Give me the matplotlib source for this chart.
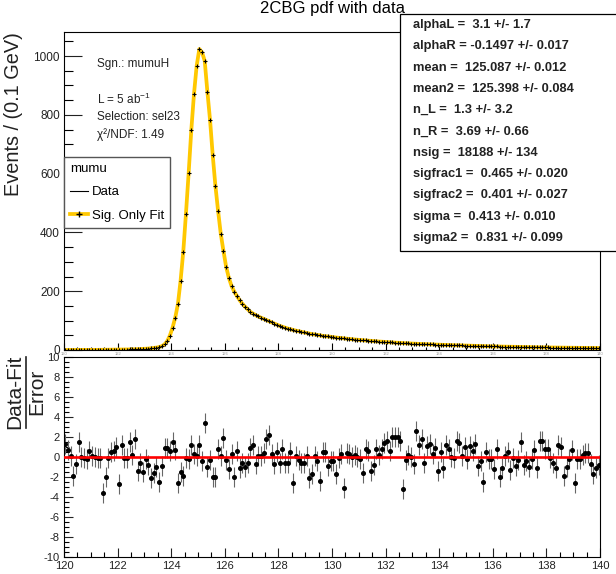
import numpy as np
import matplotlib.pyplot as plt
from matplotlib.lines import Line2D
from matplotlib.patches import Rectangle
from matplotlib.ticker import MultipleLocator

plt.rcParams['font.family'] = ['Liberation Sans', 'DejaVu Sans']
plt.rcParams['axes.unicode_minus'] = False
plt.rcParams['mathtext.fontset'] = 'custom'
plt.rcParams['mathtext.rm'] = 'Liberation Sans'
plt.rcParams['mathtext.it'] = 'Liberation Sans:italic'

# histogram: 200 bins of 0.1 GeV between 120 and 140
x_lo, x_hi, bin_w = 120.0, 140.0, 0.1
counts = [
    0.2, 0.2, 0.2, 0.2, 0.3, 0.3, 0.3, 0.3, 0.4, 0.4,
    0.4, 0.5, 0.5, 0.6, 0.6, 0.7, 0.8, 0.9, 1.0, 1.1,
    1.2, 1.4, 1.5, 1.7, 2.0, 2.2, 2.5, 2.9, 3.3, 3.8,
    4.3, 5.0, 5.9, 7.0, 8.3, 10, 13, 19, 30, 49,
    76, 110, 156, 236, 334, 463, 601, 748, 871, 967,
    1024, 1013, 984, 879, 782, 662, 558, 473, 395, 337,
    283, 246, 218, 199, 184, 170, 158, 148, 139, 130,
    124, 119, 114, 110, 106, 102, 98, 94, 90, 86,
    82, 79, 76, 73, 71, 68, 66, 64, 62, 60,
    58, 56, 54, 53, 51, 50, 48, 47, 46, 45,
    43.5, 42.5, 41.5, 40.5, 39.5, 38.5, 37.5, 36.5, 35.7, 35,
    34.2, 33.4, 32.6, 31.8, 31, 30.3, 29.6, 28.9, 28.2, 27.5,
    26.9, 26.3, 25.7, 25.1, 24.5, 24.0, 23.5, 23.0, 22.5, 22.0,
    21.6, 21.2, 20.8, 20.4, 20.0, 19.6, 19.2, 18.8, 18.4, 18.1,
    17.8, 17.5, 17.2, 16.9, 16.6, 16.3, 16.0, 15.7, 15.4, 15.1,
    14.8, 14.5, 14.2, 14.0, 13.7, 13.4, 13.2, 12.9, 12.7, 12.4,
    12.2, 12.0, 11.8, 11.6, 11.4, 11.2, 11.0, 10.8, 10.6, 10.4,
    10.2, 10.0, 9.9, 9.7, 9.5, 9.4, 9.2, 9.1, 8.9, 8.8,
    8.6, 8.5, 8.4, 8.3, 8.1, 8.0, 7.9, 7.8, 7.7, 7.6,
    7.5, 7.4, 7.3, 7.2, 7.1, 7.0, 6.9, 6.8, 6.7, 6.6,
]

pulls = [
    1.3, 0.7, 0.1, -1.9, -0.7, 1.5, 0.0, -0.1, -0.2, 0.6,
    0.1, 0.0, -0.05, -0.1, -3.6, -2.0, -0.1, 0.5, 0.6, 1.0,
    -2.7, 1.2, -0.1, -0.1, 1.5, 0.25, 1.8, -1.4, -0.55, -1.5,
    -0.2, -0.8, -2.1, -1.55, -0.95, -2.5, -0.9, 0.95, 0.95, 0.65,
    1.55, 0.7, -2.55, -1.5, -1.9, -0.1, -0.15, 1.2, 0.35, 0.1,
    1.25, -0.4, 3.37, -1.0, -0.25, -2.0, -2.0, 0.8, 0.1, 1.9,
    -0.3, -1.15, 0.35, -2.0, 0.6, -1.05, -0.55, -0.95, -0.6, 0.9,
    1.25, -0.65, 0.15, 0.15, 0.45, 1.85, 2.25, 0.35, -0.65, 0.55,
    -0.6, 0.85, -0.55, -0.55, 0.5, -2.6, 0.15, -0.3,
    -0.57, -0.57, 0.1, -2.07, -1.73, 0.1, -0.43, -2.4, 0.5, 0.5,
    -0.9, -0.37, -0.37, -1.73, -0.1, 0.33, -3.1, 0.43, 0.33, 0.03,
    0.17, 0.03, -0.23, -1.57, 0.83, 0.6, -1.43, -0.77, 0.77, 0.17,
    0.83, 1.37, 1.6, 0.6, 2.03, 2.03, 2.03, 1.57, -3.23, -0.3,
    0.23, 0.03, -0.73, 2.63, 1.23, 1.83, -0.57, 1.1, 1.27, 0.3,
    0.9, -1.37, 0.5, -1.13, 1.23, 0.77, 0.03, -0.07, 1.57, 1.43,
    0.1, 1.0, -0.2, 1.1, 0.57, 1.33, -0.93, -0.43, -2.47, 0.5,
    -0.23, -0.23, -1.23, 0.77, -1.97, -1.07, 0.1, 0.53, -1.3, -0.1,
    -0.9, -0.27, 1.5, -0.8, -0.4, -0.97, -0.23, 0.67, -1.13, 1.6,
    1.6, 0.77, 0.77, -0.13, -0.57, -1.1, 1.2, 1.03, -1.9, -1.0,
    -0.23, 0.67, -2.63, -0.17, -0.17, 0.23, 0.37, 0.43, -0.67, -1.67,
    -1.07, -0.8,
]

param_names = ['alphaL', 'alphaR', 'mean', 'mean2', 'n_L', 'n_R', 'nsig',
               'sigfrac1', 'sigfrac2', 'sigma', 'sigma2']
param_vals = [' 3.1 +/- 1.7', '-0.1497 +/- 0.017', ' 125.087 +/- 0.012',
              ' 125.398 +/- 0.084', ' 1.3 +/- 3.2', ' 3.69 +/- 0.66',
              ' 18188 +/- 134', ' 0.465 +/- 0.020', ' 0.401 +/- 0.027',
              ' 0.413 +/- 0.010', ' 0.831 +/- 0.099']

info_lines = ['Sgn.: mumuH', 'L = 5 ab$^{-1}$', 'Selection: sel23', 'χ²/NDF: 1.49']

fit_color = '#ffc800'
W, H = 616, 574

centers = x_lo + bin_w * (np.arange(len(counts)) + 0.5)

fig = plt.figure(figsize=(W / 100, H / 100), dpi=100)

# ---- top panel: data + fit
ax1 = fig.add_axes([64 / W, 1 - 350 / H, 536 / W, 318 / H])
ax1.plot(centers, counts, color=fit_color, lw=2.7, zorder=2)
ax1.plot(centers, counts, ls='none', marker='+', ms=3.5, mew=0.8, color='k', zorder=3)
ax1.set_xlim(x_lo, x_hi)
ax1.set_ylim(0, 1082)
ax1.xaxis.set_major_locator(MultipleLocator(2))
ax1.xaxis.set_minor_locator(MultipleLocator(0.5))
ax1.yaxis.set_major_locator(MultipleLocator(200))
ax1.yaxis.set_minor_locator(MultipleLocator(50))
ax1.tick_params(axis='y', which='major', direction='in', length=13, width=0.8,
                labelsize=8.5, pad=3, colors='#222222')
ax1.tick_params(axis='y', which='minor', direction='in', length=6.5, width=0.8)
ax1.tick_params(axis='x', which='major', direction='in', length=5, width=0.8,
                labelsize=3, pad=1.5, labelcolor='#999999')
ax1.tick_params(axis='x', which='minor', direction='in', length=2.5, width=0.8)
for s in ax1.spines.values():
    s.set_linewidth(0.8)

info_y = [64, 99, 117, 135]
for txt, py in zip(info_lines, info_y):
    fig.text(97 / W, 1 - py / H, txt, fontsize=8.5, va='center', ha='left', color='#222222')

handles = [Line2D([], [], color='k', lw=0.8),
           Line2D([], [], color=fit_color, lw=2.7, marker='+', mec='k', ms=4)]
leg = ax1.legend(handles, ['Data', 'Sig. Only Fit'], title='mumu', alignment='left',
                 loc='upper left', bbox_to_anchor=(0, 0.607), borderaxespad=0,
                 fancybox=False, edgecolor='#555555', framealpha=1, fontsize=9.5,
                 title_fontsize=9.5, handlelength=1.4, handletextpad=0.25,
                 labelspacing=0.85, borderpad=0.45)
leg.get_frame().set_linewidth(1.0)

# ---- bottom panel: pulls
ax2 = fig.add_axes([64 / W, 1 - 557 / H, 536 / W, 200 / H])
ax2.errorbar(centers, pulls, yerr=1, fmt='o', ms=2.6, color='k', ecolor='#666666',
             elinewidth=0.8, capsize=0, zorder=2)
ax2.axhline(0, color='red', lw=1.9, zorder=3)
ax2.set_xlim(x_lo, x_hi)
ax2.set_ylim(-10, 10)
ax2.xaxis.set_major_locator(MultipleLocator(2))
ax2.xaxis.set_minor_locator(MultipleLocator(0.5))
ax2.yaxis.set_major_locator(MultipleLocator(2))
ax2.yaxis.set_minor_locator(MultipleLocator(0.5))
ax2.tick_params(which='major', direction='in', length=6.5, width=0.8,
                labelsize=8, pad=3, colors='#222222')
ax2.tick_params(which='minor', direction='in', length=3.5, width=0.8)
for s in ax2.spines.values():
    s.set_linewidth(0.8)

# ---- titles and labels
fig.text(332 / W, 1 - 1 / H, '2CBG pdf with data', ha='center', va='top', fontsize=12)
fig.text(14 / W, 1 - 32 / H, 'Events / (0.1 GeV)', rotation=90, ha='center', va='top',
         fontsize=14.3, color='#222222')
fig.text(15 / W, 1 - 392 / H, 'Data-Fit', rotation=90, ha='center', va='center',
         fontsize=15, color='#222222')
fig.text(37 / W, 1 - 392 / H, 'Error', rotation=90, ha='center', va='center',
         fontsize=15, color='#222222')
fig.add_artist(Line2D([26 / W, 26 / W], [1 - 357 / H, 1 - 428 / H], color='#222222', lw=1.2))

# ---- parameter box
box = Rectangle((400 / W, 1 - 251 / H), 230 / W, 237 / H, transform=fig.transFigure,
                facecolor='white', edgecolor='k', lw=0.9, zorder=5)
fig.add_artist(box)
for i, (name, val) in enumerate(zip(param_names, param_vals)):
    fig.text(413 / W, 1 - (25 + i * 21.3) / H, f'{name} = {val}', fontsize=9.3,
             fontweight='bold', va='center', ha='left', color='#222222', zorder=6)

fig.savefig('out.png', dpi=100)
